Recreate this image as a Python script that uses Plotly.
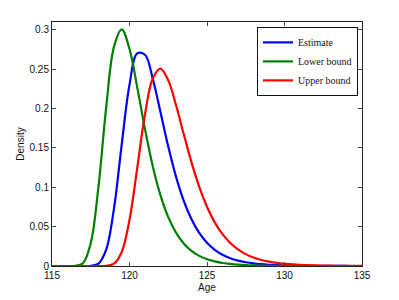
import plotly.graph_objects as go

age = [115.0, 115.5, 116.0, 116.5, 117.0, 117.5, 118.0, 118.5, 119.0, 119.5,
       120.0, 120.5, 121.0, 121.5, 122.0, 122.5, 123.0, 123.5, 124.0, 124.5,
       125.0, 125.5, 126.0, 126.5, 127.0, 127.5, 128.0, 128.5, 129.0, 129.5,
       130.0, 130.5, 131.0, 131.5, 132.0, 132.5, 133.0, 133.5, 134.0, 134.5, 135.0]

estimate = [0, 0, 0, 0, 0, 0.00014, 0.0029, 0.021, 0.0733, 0.1547,
            0.2304, 0.2701, 0.2684, 0.238, 0.1953, 0.1517, 0.1135, 0.0828, 0.0594, 0.042,
            0.0295, 0.0206, 0.0143, 0.0099, 0.0069, 0.0048, 0.0033, 0.0023, 0.0016, 0.0011,
            0.0007, 0.0005, 0.00035, 0.00024, 0.00017, 0.00012, 0.00008, 0.00005, 0.00004, 0.00003, 0.00002]

lower_bound = [0, 0, 0, 0.00013, 0.0036, 0.0291, 0.1012, 0.2022, 0.2787, 0.3007,
               0.2758, 0.2269, 0.1738, 0.1268, 0.0897, 0.0621, 0.0424, 0.0287, 0.0193, 0.0129,
               0.0086, 0.0058, 0.0038, 0.0026, 0.0017, 0.0011, 0.00075, 0.0005, 0.00033, 0.00022,
               0.00015, 0.0001, 0.00007, 0.00005, 0.00003, 0.00002, 0.00001, 0, 0, 0, 0]

upper_bound = [0, 0, 0, 0, 0, 0, 0, 0.00019, 0.0029, 0.0178,
               0.0587, 0.1246, 0.1928, 0.2382, 0.2508, 0.2358, 0.2045, 0.1675, 0.1317, 0.1005,
               0.0752, 0.0554, 0.0404, 0.0293, 0.0211, 0.0151, 0.0108, 0.0077, 0.0055, 0.0039,
               0.0028, 0.002, 0.0014, 0.001, 0.0007, 0.0005, 0.00036, 0.00026, 0.00018, 0.00013, 0.00009]

x_ticks = [115, 120, 125, 130, 135]
y_ticks = [0, 0.05, 0.1, 0.15, 0.2, 0.25, 0.3]
y_tick_labels = ["0", "0.05", "0.1", "0.15", "0.2", "0.25", "0.3"]

series = [("Estimate", estimate, "#0000ff"),
          ("Lower bound", lower_bound, "#008000"),
          ("Upper bound", upper_bound, "#ff0000")]

fig = go.Figure()
for name, vals, color in series:
    fig.add_trace(go.Scatter(x=age, y=vals, mode="lines", name=name,
                             line=dict(color=color, width=2.2, shape="spline", smoothing=1.0)))

sans = "Liberation Sans, Arial, sans-serif"
axis_common = dict(showline=True, linecolor="#222222", linewidth=1, mirror="ticks",
                   ticks="inside", ticklen=4, tickcolor="#444444", showgrid=False, zeroline=False,
                   automargin=False,
                   tickfont=dict(family=sans, size=10, color="#111111"))

fig.update_layout(
    width=399, height=300,
    margin=dict(l=52, r=37, t=22, b=34),
    paper_bgcolor="white", plot_bgcolor="white",
    xaxis=dict(range=[115, 135], tickvals=x_ticks, ticktext=[str(v) for v in x_ticks],
               title=dict(text="Age", font=dict(family=sans, size=10, color="#111111"), standoff=3),
               **axis_common),
    yaxis=dict(range=[0, 0.31], tickvals=y_ticks, ticktext=y_tick_labels,
               title=dict(text="Density", font=dict(family=sans, size=10, color="#111111"), standoff=3),
               **axis_common),
    legend=dict(x=0.987, y=0.98, xanchor="right", yanchor="top",
                bgcolor="white", bordercolor="#111111", borderwidth=1,
                font=dict(family="Liberation Serif, Times New Roman, serif", size=10, color="#111111"),
                tracegroupgap=0, itemwidth=30),
    showlegend=True,
)

fig.write_html("out.html", config={"displayModeBar": False},
               post_script="document.body.style.margin='0px';document.body.style.overflow='hidden';")
